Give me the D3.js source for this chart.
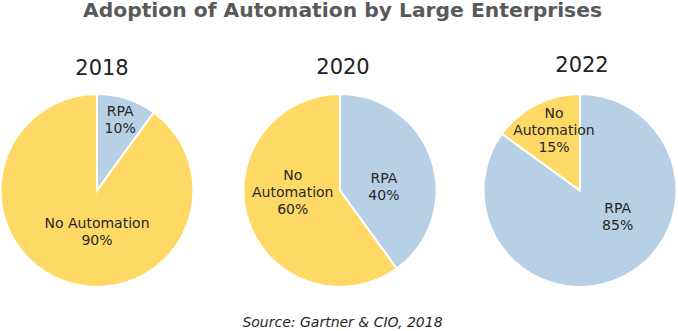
<!DOCTYPE html>
<html lang="en">
<head>
  <meta charset="utf-8">
  <title>Adoption of Automation by Large Enterprises</title>
  <script src="https://cdn.jsdelivr.net/npm/d3@7"></script>
  <style>
    body { margin: 0; background: #fff; }
    svg { display: block; font-family: "DejaVu Sans", Verdana, sans-serif; }
  </style>
</head>
<body>
<svg id="chart" width="678" height="331"></svg>
<script>
// data
var years = ["2018", "2020", "2022"];
var categories = ["RPA", "No Automation"];
var rpaShare = [10, 40, 85];
var noAutoShare = [90, 60, 15];

// label anchors per pie, per category, as fractions of the radius (dx, dy from centre)
var labelAt = [
  [[0.24, -0.74], [0.0, 0.42]],
  [[0.455, -0.04], [-0.49, 0.015]],
  [[0.39, 0.27], [-0.27, -0.63]]
];
// how each label wraps
var labelLines = [
  [["RPA"], ["No Automation"]],
  [["RPA"], ["No", "Automation"]],
  [["RPA"], ["No", "Automation"]]
];

var colors = d3.scaleOrdinal().domain(categories).range(["#b7d0e5", "#ffd966"]);

var svg = d3.select("#chart");

svg.append("text")
    .attr("x", 342.5)
    .attr("y", 17)
    .attr("text-anchor", "middle")
    .attr("font-size", 19)
    .attr("font-weight", "bold")
    .attr("fill", "#595959")
    .attr("textLength", 519)
    .attr("lengthAdjust", "spacingAndGlyphs")
    .text("Adoption of Automation by Large Enterprises");

var centers = {"2018": 97, "2020": 340, "2022": 580};
var cy = 190.5, r = 96.5;
var yearY = {"2018": 75, "2020": 74, "2022": 72};
var yearX = {"2018": 102, "2020": 343, "2022": 582};

var pie = d3.pie().sort(null).value(d => d.value);
var arc = d3.arc().innerRadius(0).outerRadius(r);

years.forEach(function(year, i) {
  var data = [
    {cat: categories[0], value: rpaShare[i]},
    {cat: categories[1], value: noAutoShare[i]}
  ];

  var g = svg.append("g")
      .attr("transform", "translate(" + centers[year] + "," + cy + ")");

  g.selectAll("path")
    .data(pie(data))
    .enter().append("path")
      .attr("d", arc)
      .attr("fill", d => colors(d.data.cat))
      .attr("stroke", "#fff")
      .attr("stroke-width", 2);

  svg.append("text")
      .attr("x", yearX[year])
      .attr("y", yearY[year])
      .attr("text-anchor", "middle")
      .attr("font-size", 21)
      .attr("fill", "#222")
      .text(year);

  data.forEach(function(d, j) {
    var lines = labelLines[i][j].concat([d.value + "%"]);
    var lh = 17;
    var x = labelAt[i][j][0] * r, y = labelAt[i][j][1] * r;
    var t = g.append("text")
        .attr("text-anchor", "middle")
        .attr("font-size", 14)
        .attr("fill", "#262626");
    lines.forEach(function(line, k) {
      t.append("tspan")
        .attr("x", x)
        .attr("y", y + (k - (lines.length - 1) / 2) * lh + 5)
        .text(line);
    });
  });
});

svg.append("text")
    .attr("x", 342.5)
    .attr("y", 327)
    .attr("text-anchor", "middle")
    .attr("font-size", 14)
    .attr("font-style", "italic")
    .attr("fill", "#262626")
    .text("Source: Gartner & CIO, 2018");
</script>
</body>
</html>
